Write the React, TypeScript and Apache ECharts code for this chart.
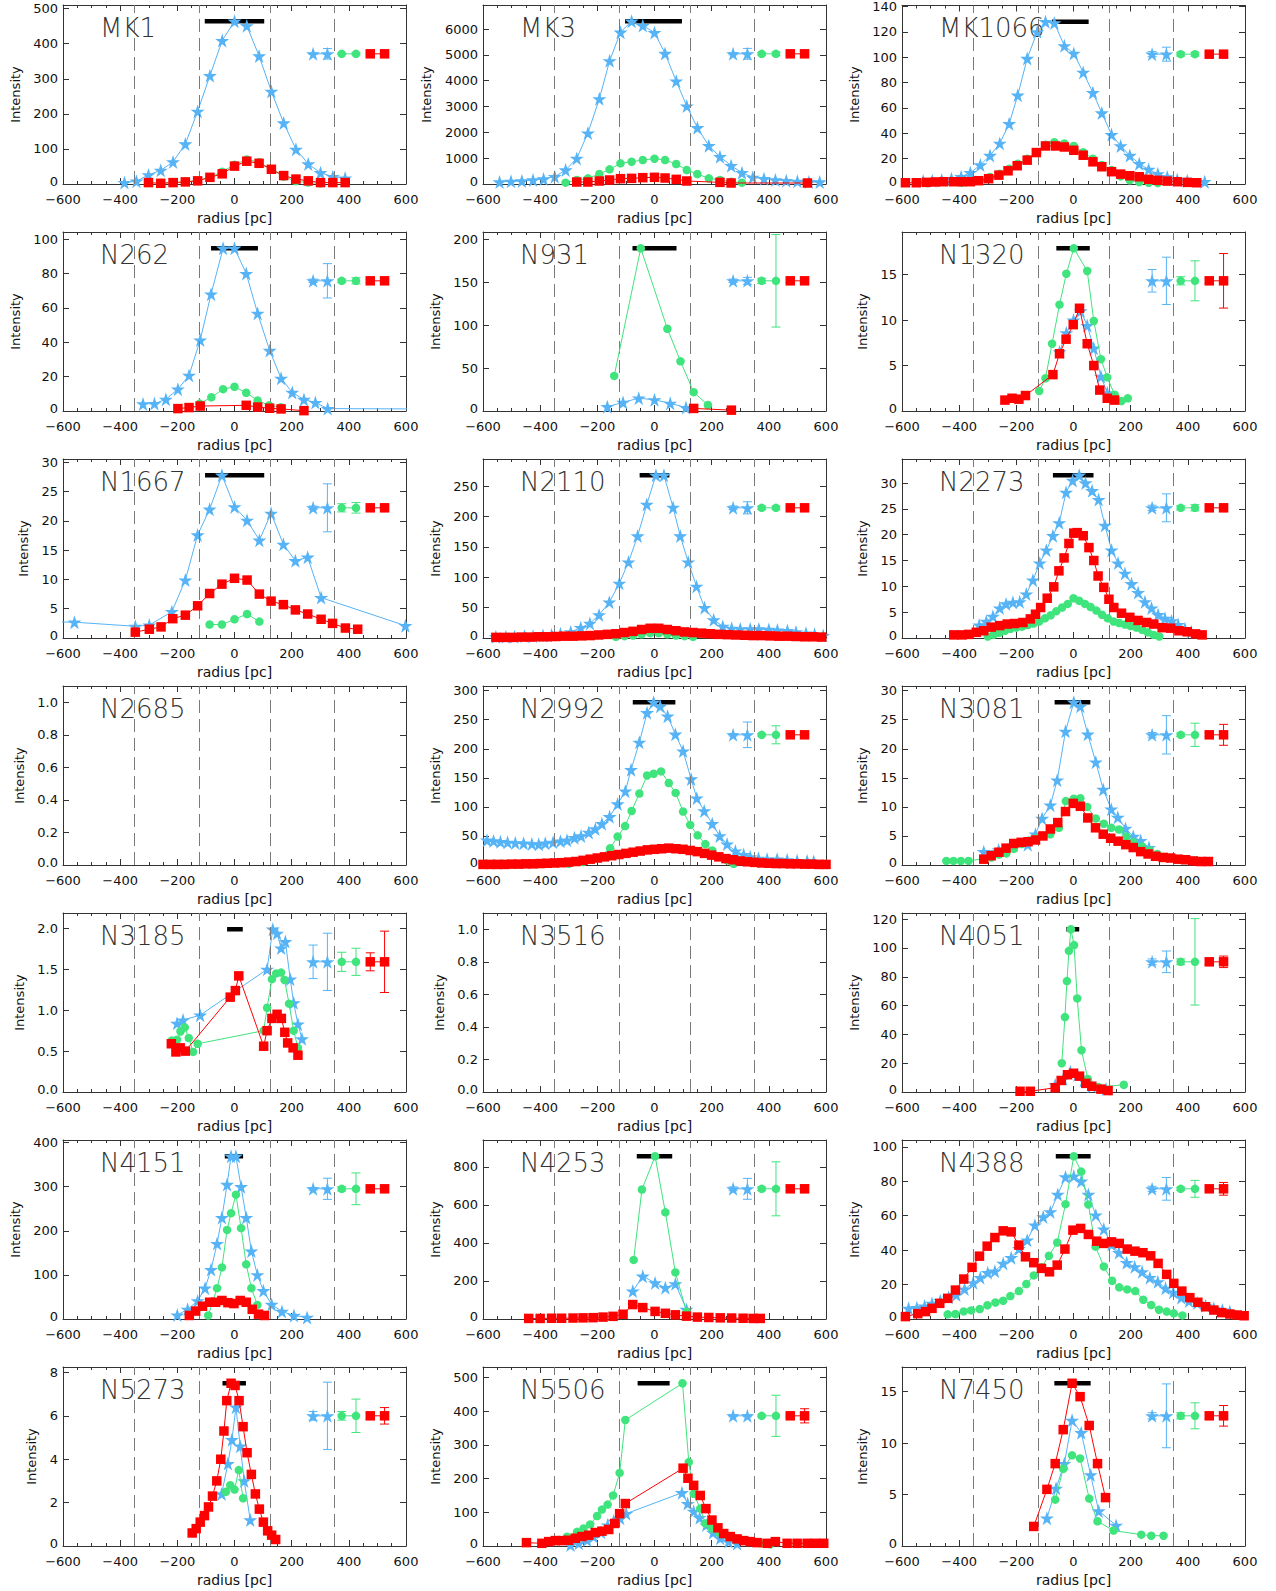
import React, { useEffect, useRef } from "react";
import * as echarts from "echarts";

const BLUE = "#56b3f6";
const GREEN = "#3fe47c";
const RED = "#ff0000";
const STAR = "path://M50,2 L61.2,36.6 L97.6,36.6 L68.2,58 L79.4,92.6 L50,71.2 L20.6,92.6 L31.8,58 L2.4,36.6 L38.8,36.6 Z";

// ---------------- data ----------------
const panelNames = ["MK1", "MK3", "MK1066", "N262", "N931", "N1320", "N1667", "N2110", "N2273", "N2685", "N2992", "N3081", "N3185", "N3516", "N4051", "N4151", "N4253", "N4388", "N5273", "N5506", "N7450"];
const yTickSteps = [100, 1000, 20, 20, 50, 5, 5, 50, 5, 0.2, 50, 5, 0.5, 0.2, 20, 100, 200, 20, 2, 100, 5];
const yDecimals = [0, 0, 0, 0, 0, 0, 0, 0, 0, 1, 0, 0, 1, 1, 0, 0, 0, 0, 0, 0, 0];
const dashX = [-350, -125, 125, 350];
const legendX = [275, 325, 375, 425, 475, 525];

const mk1StarX = [-385, -343, -301, -258, -215, -172, -129, -86, -43, 0, 43, 86, 129, 172, 215, 258, 301, 344, 387];
const mk1StarY = [4, 8, 26, 39, 63, 114, 207, 309, 409, 464, 451, 365, 264, 174, 99, 57, 32, 21, 17];
const mk1GreenX = [-258, -215, -172, -129, -86, -43, 0, 43, 86, 129, 172, 215, 258, 301];
const mk1GreenY = [3, 4, 6, 10, 19, 35, 55, 70, 62, 42, 21, 8, 4, 2];
const mk1RedX = [-301, -258, -215, -172, -129, -86, -43, 0, 43, 86, 129, 172, 215, 258, 301, 344, 387];
const mk1RedY = [4, 2, 4, 6, 9, 19, 29, 51, 65, 59, 42, 24, 14, 9, 4, 4, 4];
const mk1Bar = [-104, 104];
const mk1Err = [2, 15, 2, 3, 3, 4];

const mk3StarX = [-542, -502, -464, -425, -388, -349, -311, -272, -233, -193, -157, -119, -80, -41, 0, 37, 76, 113, 150, 190, 229, 268, 306, 344, 383, 423, 461, 500, 540, 578];
const mk3StarY = [77, 103, 116, 155, 193, 284, 541, 992, 1972, 3299, 4768, 5876, 6300, 6134, 5863, 5052, 3982, 3015, 2178, 1482, 1057, 709, 438, 258, 206, 155, 129, 103, 77, 77];
const mk3GreenX = [-311, -272, -233, -193, -157, -119, -80, -41, 0, 37, 76, 113, 150, 190, 229, 268, 306];
const mk3GreenY = [52, 155, 219, 387, 567, 799, 863, 928, 979, 928, 773, 541, 387, 219, 155, 90, 52];
const mk3RedX = [-272, -233, -193, -157, -119, -80, -41, 0, 37, 76, 113, 229, 268, 535];
const mk3RedY = [77, 77, 116, 155, 206, 219, 245, 258, 232, 180, 116, 64, 39, 39];
const mk3Bar = [-103, 96];
const mk3Err = [40, 210, 50, 70, 40, 60];

const mk1066StarX = [-526, -494, -461, -427, -393, -361, -326, -292, -258, -225, -195, -162, -127, -98, -67, -32, 1, 34, 68, 99, 133, 165, 197, 230, 263, 295, 328, 363, 398, 459];
const mk1066StarY = [2.3, 2.6, 3.1, 4.2, 5.7, 8.9, 15, 22.5, 32, 47.5, 70, 99, 120, 128, 127, 109, 103, 88, 72, 56, 39, 30, 22.5, 16, 11.5, 8, 5.5, 3.5, 2.6, 1.8];
const mk1066GreenX = [-392, -361, -326, -292, -258, -225, -195, -162, -127, -98, -67, -32, 1, 34, 68, 99, 133, 165, 197, 230, 263, 295];
const mk1066GreenY = [1, 2, 3, 5.5, 8, 12, 16, 20, 25, 31, 33, 32, 30, 25, 20, 15, 11, 6, 3, 1.5, 1, 0.8];
const mk1066RedX = [-588, -550, -515, -483, -454, -419, -390, -361, -332, -297, -261, -229, -197, -162, -130, -98, -63, -32, 1, 34, 68, 99, 133, 165, 197, 230, 263, 295, 328, 363, 398, 431];
const mk1066RedY = [1, 1, 1.3, 1.6, 1.8, 1.8, 1.8, 1.8, 2.6, 4.2, 7, 10.4, 14.4, 18.8, 24.8, 30, 30, 29.2, 26.6, 22.7, 17.5, 13.6, 9.7, 7.8, 6.5, 5.7, 3.7, 2.9, 2.3, 1.8, 1.3, 1];
const mk1066Bar = [-75, 53];
const mk1066Err = [2, 5.5, 1.5, 1.5, 1.5, 1.5];

const n262StarX = [-320, -280, -240, -198, -159, -120, -82, -40, 0, 41, 81, 123, 163, 202, 243, 283, 326, 900];
const n262StarY = [4.1, 4.3, 6.8, 12.7, 20.7, 41.3, 68, 94.7, 94.7, 80, 56.8, 35.2, 19, 10.8, 6.7, 4.9, 1.4, 1.0];
const n262GreenX = [-122, -81, -40, 0, 41, 81, 121, 163];
const n262GreenY = [4.3, 8, 12.7, 14.1, 10.6, 6.1, 3.3, 2.2];
const n262RedX = [-198, -159, -120, 41, 81, 123, 163, 243];
const n262RedY = [1.4, 2, 2.9, 3.3, 2.3, 1.6, 1.2, 0.2];
const n262Bar = [-82, 82];
const n262Err = [1, 10, 1, 1.8, 1, 1];

const n931StarX = [-165, -110, -55, 0, 55, 110];
const n931StarY = [5, 10, 15, 13, 9, 4];
const n931GreenX = [-141, -48, 45, 91, 137, 187];
const n931GreenY = [41, 190, 96, 58, 22, 7];
const n931RedX = [137, 269];
const n931RedY = [3, 1];
const n931Bar = [-77, 77];
const n931Err = [2, 4, 3, 54, 2, 2];

const n1320StarX = [-49, -25, 0, 25, 48, 71, 96, 118];
const n1320StarY = [6.5, 8.6, 10, 11, 9.4, 6.9, 3.8, 2];
const n1320GreenX = [-120, -98, -75, -49, -25, 1, 48, 71, 96, 118, 144, 168, 190];
const n1320GreenY = [2.2, 3.6, 7.4, 11.7, 15.1, 17.9, 15.4, 9.9, 5.7, 3.7, 1.8, 1.1, 1.4];
const n1320RedX = [-240, -215, -191, -168, -72, -49, -26, -1, 21, 48, 71, 92, 118, 144];
const n1320RedY = [1.2, 1.4, 1.3, 1.7, 4.0, 6.3, 7.9, 9.5, 11.3, 7.4, 5.0, 2.3, 1.4, 1.2];
const n1320Bar = [-60, 57];
const n1320Err = [1.24, 2.6, 0.45, 2.2, 0.3, 3.0];

const n1667StarX = [-700, -560, -347, -298, -219, -172, -129, -87, -44, 0, 44, 87, 128, 171, 213, 256, 303, 598];
const n1667StarY = [2.8, 2.7, 2.0, 2.2, 4.5, 9.9, 17.6, 22, 27.8, 22.4, 20.1, 16.7, 21.3, 16, 13.2, 13.8, 6.9, 2.1];
const n1667GreenX = [-87, -44, 0, 44, 87];
const n1667GreenY = [2.3, 2.3, 3.2, 4.1, 2.8];
const n1667RedX = [-347, -298, -257, -216, -172, -129, -87, -44, 0, 44, 87, 128, 171, 213, 256, 303, 343, 388, 431];
const n1667RedY = [1, 1.5, 1.9, 3.3, 3.9, 5.5, 7.6, 9.2, 10.2, 9.9, 7.5, 6.3, 5.7, 4.8, 4.1, 3.2, 2.5, 1.7, 1.5];
const n1667Bar = [-103, 104];
const n1667Err = [0.3, 4.1, 0.7, 0.9, 0.3, 0.5];

const n2110StarX = [-555, -520, -490, -455, -425, -390, -360, -329, -293, -258, -226, -194, -158, -123, -91, -59, -27, 5, 33, 65, 90, 118, 147, 175, 207, 239, 270, 300, 335, 365, 400, 430, 465, 495, 530, 560, 590];
const n2110StarY = [2, 2, 2, 3, 3, 4, 5, 7, 10, 17, 24, 38, 59, 90, 125, 168, 220, 268, 268, 215, 168, 125, 85, 50, 30, 19, 16, 15, 15, 15, 14, 13, 12, 10, 8, 6, 4];
const n2110GreenX = [-135, -105, -75, -45, -15, 15, 45, 75, 105, 135];
const n2110GreenY = [2, 3, 4, 6, 8, 8, 6, 4, 3, 2];
const n2110RedX = [-555, -525, -495, -465, -435, -405, -375, -345, -315, -285, -255, -225, -195, -165, -135, -105, -75, -45, -15, 15, 45, 75, 105, 135, 165, 195, 225, 255, 285, 315, 345, 375, 405, 435, 465, 495, 525, 555, 585];
const n2110RedY = [1, 1, 1, 1.5, 1.5, 2, 2, 2.5, 3, 3, 3.5, 4, 5, 6, 7, 9, 11, 14, 16, 16, 14, 12, 10, 9, 8, 7, 6, 5.5, 5, 4.5, 4, 4, 3.5, 3, 3, 2.5, 2, 2, 1.5];
const n2110Bar = [-52, 52];
const n2110Err = [3, 10, 3, 3, 2, 2];

const n2273StarX = [-330, -305, -282, -258, -236, -212, -188, -165, -142, -118, -95, -72, -50, -26, -3, 20, 42, 65, 88, 110, 133, 156, 180, 203, 226, 250, 273, 296, 320, 343, 366, 390, 412];
const n2273StarY = [2.5, 3.2, 4.2, 5.8, 6.6, 6.9, 7.0, 8.5, 11.2, 14.5, 17, 19.8, 22.3, 28.2, 30.5, 31.5, 30, 28.5, 26.8, 21.8, 17, 14.5, 12.5, 10.5, 8.8, 7, 5.8, 4.5, 3.8, 3.3, 2.6, 1.8, 1.2];
const n2273GreenX = [-300, -280, -260, -240, -220, -200, -180, -160, -140, -120, -100, -80, -60, -40, -20, 0, 20, 40, 60, 80, 100, 120, 140, 160, 180, 200, 220, 240, 260, 280, 300];
const n2273GreenY = [0.3, 0.6, 1.0, 1.4, 1.8, 2.0, 2.2, 2.5, 2.8, 3.2, 3.8, 4.4, 5.2, 5.9, 6.6, 7.7, 7.2, 6.6, 6.0, 5.3, 4.5, 3.8, 3.2, 2.9, 2.6, 2.3, 2.0, 1.6, 1.1, 0.6, 0.3];
const n2273RedX = [-419, -390, -367, -340, -314, -288, -258, -232, -207, -177, -151, -133, -115, -92, -69, -51, -33, -16, 1, 13, 34, 54, 71, 86, 106, 124, 141, 168, 197, 226, 256, 281, 310, 340, 369, 398, 427, 450];
const n2273RedY = [0.6, 0.6, 0.7, 1.1, 1.4, 2.1, 2.4, 2.7, 2.8, 3.0, 3.7, 4.6, 5.9, 7.7, 9.9, 13, 15.5, 18.3, 20.3, 20.4, 19.8, 17.5, 15, 12, 9.8, 7.5, 5.9, 4.8, 4, 3.4, 3, 2.7, 2, 1.9, 1.4, 1.2, 0.8, 0.6];
const n2273Bar = [-72, 70];
const n2273Err = [0.5, 2.7, 0.4, 0.6, 0.4, 0.6];

const n2992StarX = [-586, -563, -539, -514, -487, -458, -429, -405, -382, -355, -329, -306, -280, -257, -230, -207, -184, -157, -129, -102, -82, -53, -26, -3, 20, 46, 73, 100, 128, 148, 174, 202, 228, 254, 283, 312, 335, 364, 394, 429, 464, 499, 534, 557];
const n2992StarY = [42.6, 41.5, 40, 39, 38, 37.4, 36.3, 35.7, 37.4, 39, 41, 42.6, 47, 50, 56, 62, 71, 83, 105, 127, 164, 211, 262, 280, 273, 256, 225, 196, 148, 115, 93, 71, 50, 36, 24, 18, 14, 11.5, 10, 10, 8.6, 7.5, 7, 6];
const n2992GreenX = [-590, -560, -530, -300, -250, -200, -155, -129, -103, -80, -53, -26, -3, 23, 50, 74, 100, 125, 151, 178, 202, 228, 254, 277];
const n2992GreenY = [2, 2, 2, 2, 5, 12, 28.8, 49, 67, 93, 123, 154, 157, 161, 141, 124, 92, 69, 51, 36, 25, 15.6, 8, 2];
const n2992RedX = [-600, -575, -550, -525, -500, -475, -450, -425, -400, -375, -350, -325, -300, -275, -250, -225, -200, -175, -150, -125, -100, -75, -50, -25, 0, 25, 50, 75, 100, 125, 150, 175, 200, 225, 250, 275, 300, 325, 350, 375, 400, 425, 450, 475, 500, 525, 550, 575, 600];
const n2992RedY = [1, 1, 1, 1, 1.5, 1.5, 2, 2, 2.5, 3, 3.5, 4, 5, 6, 8, 10, 12, 14, 16, 18, 20, 22, 24, 26, 27, 28, 29, 28, 27, 25, 23, 20, 17, 14, 11, 9, 7, 5.5, 4.5, 3.5, 3, 2.5, 2.5, 2, 2, 1.5, 1.5, 1, 1];
const n2992Bar = [-76, 73];
const n2992Err = [2, 22, 2, 15.5, 2, 2];

const n3081StarX = [-314, -262, -209, -160, -133, -110, -81, -57, -28, 1, 24, 50, 78, 104, 132, 155, 182, 209, 235, 264];
const n3081StarY = [2.3, 2.6, 3.4, 3.5, 5.3, 8, 10.3, 14.6, 23, 28, 27.3, 22.5, 17.7, 13, 9.6, 8.2, 6.3, 4.9, 4.2, 3];
const n3081GreenX = [-445, -420, -394, -367, -288, -261, -235, -209, -182, -156, -130, -105, -81, -51, -27, 1, 24, 48, 78, 106, 132, 159, 185, 211, 240, 267, 293];
const n3081GreenY = [0.7, 0.7, 0.7, 0.7, 1.3, 1.8, 2.0, 2.8, 3.6, 4.2, 4.6, 5.0, 5.3, 6.4, 11, 11.4, 11.5, 10, 8, 7.1, 6.4, 6.1, 4.9, 3.9, 3.2, 2.5, 1.9];
const n3081RedX = [-314, -288, -261, -236, -209, -183, -159, -133, -107, -81, -55, -28, -1, 24, 50, 77, 104, 130, 156, 183, 209, 235, 261, 287, 314, 340, 366, 392, 419, 445, 472];
const n3081RedY = [1, 1.6, 2.2, 2.9, 3.7, 3.9, 4, 4.3, 5, 6.2, 7.3, 9.2, 10.6, 10.1, 8.1, 6.4, 5.3, 4.6, 4.1, 3.5, 3, 2.3, 1.9, 1.5, 1.3, 1.2, 1, 0.9, 0.7, 0.6, 0.6];
const n3081Bar = [-66, 59];
const n3081Err = [0.4, 3.3, 0.3, 2.0, 0.3, 1.8];

const n3185StarX = [-201, -180, -120, 114, 134, 149, 163, 178, 195, 207, 222, 236];
const n3185StarY = [0.84, 0.88, 0.94, 1.5, 1.99, 1.94, 1.76, 1.84, 1.38, 1.09, 0.83, 0.65];
const n3185GreenX = [-219, -201, -189, -174, -160, -145, -129, 102, 114, 131, 146, 163, 175, 191, 207, 222];
const n3185GreenY = [0.63, 0.64, 0.74, 0.79, 0.66, 0.49, 0.59, 0.75, 1.03, 1.38, 1.45, 1.46, 1.37, 1.08, 0.75, 0.54];
const n3185RedX = [-221, -205, -190, -172, -15, 3, 15, 102, 114, 131, 149, 164, 176, 186, 205, 222];
const n3185RedY = [0.59, 0.49, 0.54, 0.5, 1.16, 1.24, 1.42, 0.56, 0.75, 0.9, 0.95, 0.9, 0.73, 0.6, 0.54, 0.45];
const n3185Bar = [-26, 29];
const n3185Err = [0.205, 0.35, 0.117, 0.166, 0.11, 0.375];

const n4051StarX = [-64, -36, -11, 14, 36, 64, 114];
const n4051StarY = [5, 9, 14, 12, 8, 4, 2];
const n4051GreenX = [-41, -30, -23, -16, -9, 2, 13, 28, 50, 87, 176];
const n4051GreenY = [20, 52, 77, 98, 113, 102, 65, 29, 9, 3.5, 5];
const n4051RedX = [-187, -151, -64, -43, -21, 0, 21, 43, 64, 96, 121];
const n4051RedY = [0.5, 0.5, 3, 8, 12, 13, 11, 6, 4, 2, 1];
const n4051Bar = [-25, 20];
const n4051Err = [2, 7.5, 2, 30, 2, 4];

const n4151StarX = [-200, -164, -129, -103, -82, -61, -44, -26, -12, 5, 23, 41, 59, 80, 101, 130, 166, 208, 254];
const n4151StarY = [9, 22, 41, 70, 112, 171, 230, 305, 369, 369, 300, 230, 154, 100, 64, 33, 17, 8, 3.5];
const n4151GreenX = [-92, -61, -44, -26, -12, 5, 23, 41, 59, 80];
const n4151GreenY = [8, 70, 117, 202, 240, 282, 206, 124, 70, 32];
const n4151RedX = [-158, -136, -112, -87, -66, -44, -23, -2, 20, 41, 62, 84, 105];
const n4151RedY = [8, 18, 29, 38, 38, 42, 37, 35, 42, 38, 22, 11, 8];
const n4151Bar = [-34, 30];
const n4151Err = [3, 24, 5, 36, 4, 6];

const n4253StarX = [-76, -41, 2, 38, 73, 112];
const n4253StarY = [147, 225, 190, 165, 185, 50];
const n4253GreenX = [-73, -44, 2, 38, 73, 112];
const n4253GreenY = [311, 681, 856, 561, 245, 38];
const n4253RedX = [-440, -400, -360, -325, -285, -250, -215, -180, -145, -110, -76, -41, 2, 38, 73, 112, 150, 190, 230, 270, 310, 345, 370];
const n4253RedY = [3, 3, 4, 4, 5, 6, 7, 10, 14, 25, 76, 60, 40, 30, 22, 15, 10, 8, 6, 5, 4, 3, 3];
const n4253Bar = [-62, 62];
const n4253Err = [10, 55, 10, 142, 10, 20];

const n4388StarX = [-577, -548, -521, -495, -466, -437, -410, -381, -351, -326, -300, -275, -246, -218, -191, -162, -135, -106, -81, -55, -28, 1, 27, 52, 78, 106, 133, 159, 186, 214, 240, 267, 295, 322, 349, 377, 404, 433, 462, 491, 521, 547];
const n4388StarY = [6.2, 6.6, 7.5, 9, 10.6, 12.6, 14, 17.4, 21, 24, 26.9, 27.8, 32.3, 35.6, 40.8, 45.8, 54.5, 59.3, 62.2, 72.3, 82.5, 83, 80, 72.3, 60.3, 52.2, 43.3, 38.6, 32.7, 30.3, 27.4, 24, 21.6, 17.8, 15.5, 12.4, 10.4, 9.3, 7.7, 6.2, 5.2, 4.3];
const n4388GreenX = [-440, -413, -384, -358, -328, -301, -273, -246, -221, -191, -165, -139, -112, -86, -57, -28, 1, 27, 52, 77, 106, 135, 160, 188, 216, 244, 272, 299, 326, 351, 381];
const n4388GreenY = [2.7, 2.9, 4.4, 5.0, 5.8, 8.0, 9.6, 10.6, 13.3, 16.2, 20.3, 25.3, 30, 36.7, 44.4, 66.7, 94.5, 85.6, 66.5, 42, 30.5, 22.2, 18.4, 17.2, 16.2, 11.2, 8.1, 5.4, 4.3, 3.3, 2.1];
const n4388RedX = [-588, -545, -518, -495, -468, -440, -413, -384, -355, -329, -302, -275, -246, -218, -191, -168, -139, -112, -84, -57, -30, -2, 25, 52, 81, 106, 133, 160, 188, 215, 243, 270, 296, 326, 351, 379, 407, 435, 462, 491, 518, 547, 573, 597];
const n4388RedY = [1.4, 3.1, 4.3, 6.2, 9.1, 12, 16.8, 23.2, 30, 36.5, 42.3, 47.3, 51.2, 50.6, 42.9, 36.1, 32.7, 29.4, 27.4, 31.3, 40.6, 51.6, 52.6, 49.1, 45.2, 43.9, 44.8, 43.9, 40.6, 39.4, 38.5, 36.7, 32.3, 25.9, 20.7, 16.2, 12.4, 9.7, 7.1, 5.2, 3.7, 2.9, 2.3, 1.9];
const n4388Bar = [-62, 60];
const n4388Err = [1.5, 6.6, 1, 4.9, 1, 3.7];

const n5273StarX = [-45, -23, -9, 5, 20, 34, 55];
const n5273StarY = [2.4, 3.8, 4.9, 6.4, 4.6, 3.0, 1.2];
const n5273GreenX = [-30, -15, 0, 15, 30];
const n5273GreenY = [2.5, 2.8, 2.6, 3.5, 2.2];
const n5273RedX = [-148, -134, -120, -105, -91, -77, -62, -48, -37, -27, -12, 2, 16, 30, 44, 59, 73, 87, 101, 116, 130, 144];
const n5273RedY = [0.6, 0.8, 1.1, 1.4, 1.8, 2.3, 3, 4, 5.3, 6.7, 7.5, 7.4, 6.7, 5.5, 4.3, 3.3, 2.4, 1.7, 1.1, 0.7, 0.5, 0.3];
const n5273Bar = [-42, 40];
const n5273Err = [0.2, 1.55, 0.2, 0.77, 0.15, 0.38];

const n5506StarX = [-294, -265, -236, -213, -187, -164, -143, -120, -99, 96, 116, 137, 158, 181, 205, 230, 259, 289];
const n5506StarY = [3, 8, 18, 28, 41, 62, 74, 82, 96, 158, 126, 103, 84, 62, 40, 23, 13, 7];
const n5506GreenX = [-347, -306, -271, -248, -225, -201, -184, -164, -145, -122, -102, 98, 120, 137, 160, 178, 201, 225, 251, 277, 306, 335, 370, 405];
const n5506GreenY = [18, 27.5, 42, 52, 64, 89, 108, 123, 150, 217, 374, 483, 249, 155, 111, 67, 52, 40, 32, 25, 18, 13, 8, 5];
const n5506RedX = [-448, -394, -370, -347, -324, -300, -277, -254, -230, -207, -184, -160, -139, -122, -102, 100, 117, 137, 160, 180, 201, 222, 242, 265, 289, 312, 335, 359, 394, 423, 464, 499, 534, 563, 592];
const n5506RedY = [10, 8, 13, 16, 16, 17, 23, 28, 32, 40, 44, 49, 67, 96, 126, 231, 201, 180, 150, 111, 77, 54, 37, 28, 21, 16, 13, 10, 8, 13, 8, 8, 8, 8, 8];
const n5506Bar = [-59, 53];
const n5506Err = [3, 3, 3, 61, 3, 21];

const n7450StarX = [-93, -61, -32, -5, 27, 60, 88, 149];
const n7450StarY = [2.7, 5.6, 8, 12.2, 11, 6.9, 3.4, 2];
const n7450GreenX = [-64, -36, -5, 23, 55, 84, 140, 237, 272, 315];
const n7450GreenY = [4.5, 7.5, 8.8, 8.5, 4.6, 2.4, 1.5, 1.1, 1.0, 1.0];
const n7450RedX = [-139, -93, -64, -36, -5, 23, 55, 84, 112];
const n7450RedY = [1.9, 5.5, 8, 11.3, 15.8, 14.5, 11.7, 8, 4.7];
const n7450Bar = [-67, 60];
const n7450Err = [0.3, 3.1, 0.3, 1.26, 0.3, 1.0];

const E: number[] = [];
const panelData: any[] = [
  [mk1StarX, mk1StarY, mk1GreenX, mk1GreenY, mk1RedX, mk1RedY, mk1Bar, mk1Err],
  [mk3StarX, mk3StarY, mk3GreenX, mk3GreenY, mk3RedX, mk3RedY, mk3Bar, mk3Err],
  [mk1066StarX, mk1066StarY, mk1066GreenX, mk1066GreenY, mk1066RedX, mk1066RedY, mk1066Bar, mk1066Err],
  [n262StarX, n262StarY, n262GreenX, n262GreenY, n262RedX, n262RedY, n262Bar, n262Err],
  [n931StarX, n931StarY, n931GreenX, n931GreenY, n931RedX, n931RedY, n931Bar, n931Err],
  [n1320StarX, n1320StarY, n1320GreenX, n1320GreenY, n1320RedX, n1320RedY, n1320Bar, n1320Err],
  [n1667StarX, n1667StarY, n1667GreenX, n1667GreenY, n1667RedX, n1667RedY, n1667Bar, n1667Err],
  [n2110StarX, n2110StarY, n2110GreenX, n2110GreenY, n2110RedX, n2110RedY, n2110Bar, n2110Err],
  [n2273StarX, n2273StarY, n2273GreenX, n2273GreenY, n2273RedX, n2273RedY, n2273Bar, n2273Err],
  [E, E, E, E, E, E, null, null],
  [n2992StarX, n2992StarY, n2992GreenX, n2992GreenY, n2992RedX, n2992RedY, n2992Bar, n2992Err],
  [n3081StarX, n3081StarY, n3081GreenX, n3081GreenY, n3081RedX, n3081RedY, n3081Bar, n3081Err],
  [n3185StarX, n3185StarY, n3185GreenX, n3185GreenY, n3185RedX, n3185RedY, n3185Bar, n3185Err],
  [E, E, E, E, E, E, null, null],
  [n4051StarX, n4051StarY, n4051GreenX, n4051GreenY, n4051RedX, n4051RedY, n4051Bar, n4051Err],
  [n4151StarX, n4151StarY, n4151GreenX, n4151GreenY, n4151RedX, n4151RedY, n4151Bar, n4151Err],
  [n4253StarX, n4253StarY, n4253GreenX, n4253GreenY, n4253RedX, n4253RedY, n4253Bar, n4253Err],
  [n4388StarX, n4388StarY, n4388GreenX, n4388GreenY, n4388RedX, n4388RedY, n4388Bar, n4388Err],
  [n5273StarX, n5273StarY, n5273GreenX, n5273GreenY, n5273RedX, n5273RedY, n5273Bar, n5273Err],
  [n5506StarX, n5506StarY, n5506GreenX, n5506GreenY, n5506RedX, n5506RedY, n5506Bar, n5506Err],
  [n7450StarX, n7450StarY, n7450GreenX, n7450GreenY, n7450RedX, n7450RedY, n7450Bar, n7450Err],
];

// ---------------- layout ----------------
const COLS = [63, 483, 902];
const ROWS = [5, 232, 459, 686, 913, 1140, 1367];
const PW = 343;
const PH = 179;
const FONT = "DejaVu Sans";
const FRAME = "#333";
const LABEL = "#111";

const zip = (xs: number[], ys: number[]) => xs.map((x, k) => [x, ys[k]]);
const fmtX = (v: number) => String(v).replace("-", "\u2212");
const charW = (s: string) => s.split("").reduce((a, c) => a + (c === "." ? 4.1 : 8.3), 0);

function buildOption() {
  const grid: any[] = [];
  const xAxis: any[] = [];
  const yAxis: any[] = [];
  const series: any[] = [];
  const graphic: any[] = [];

  panelData.forEach((pd, i) => {
    const [sx, sy, gx, gy, rx, ry, bar, err] = pd;
    const col = i % 3;
    const row = Math.floor(i / 3);
    const left = COLS[col];
    const top = ROWS[row];
    const step = yTickSteps[i];
    const dec = yDecimals[i];
    const inRange = (xs: number[], ys: number[]) => ys.filter((_, k) => xs[k] >= -600 && xs[k] <= 600);
    const all = [...inRange(sx, sy), ...inRange(gx, gy), ...inRange(rx, ry)];
    const maxV = all.length ? Math.max(...all) : 1;
    const topV = maxV * 1.1;
    const fmtY = (v: number) => (dec ? v.toFixed(dec) : String(Math.round(v)));

    grid.push({ left, top, width: PW, height: PH, containLabel: false });

    const baseX = {
      type: "value", gridIndex: i, min: -600, max: 600, interval: 200,
      splitLine: { show: false },
      axisLine: { show: true, onZero: false, lineStyle: { color: FRAME, width: 1 } },
      axisTick: { show: true, inside: true, length: 6, lineStyle: { color: FRAME } },
      minorTick: { show: true, splitNumber: 4, length: 3, lineStyle: { color: FRAME } },
    };
    xAxis.push({
      ...baseX, position: "bottom",
      axisLabel: { show: true, margin: 9, fontSize: 13, fontFamily: FONT, color: LABEL, formatter: (v: number) => fmtX(v) },
    });
    xAxis.push({ ...baseX, position: "top", axisLabel: { show: false } });

    const baseY = {
      type: "value", gridIndex: i, min: 0, max: topV, interval: step,
      splitLine: { show: false },
      axisLine: { show: true, onZero: false, lineStyle: { color: FRAME, width: 1 } },
      axisTick: { show: true, inside: true, length: 6, lineStyle: { color: FRAME } },
    };
    yAxis.push({
      ...baseY, position: "left",
      axisLabel: {
        show: true, margin: 5, fontSize: 13, fontFamily: FONT, color: LABEL, showMaxLabel: false,
        formatter: (v: number) => (Math.abs(v) < 1e-9 ? `{z|${fmtY(0)}}` : fmtY(v)),
        rich: { z: { fontSize: 13, fontFamily: FONT, color: LABEL, padding: [0, 0, 6, 0] } },
      },
    });
    yAxis.push({ ...baseY, position: "right", axisLabel: { show: false } });

    const xi = i * 2;
    const yi = i * 2;

    // dashed reference lines
    series.push({
      type: "line", xAxisIndex: xi, yAxisIndex: yi, data: [[0, 0]], symbol: "none",
      lineStyle: { width: 0, opacity: 0 }, silent: true, z: 1,
      markLine: {
        silent: true, symbol: ["none", "none"], label: { show: false },
        lineStyle: { color: "#7a7a7a", type: [13, 6], width: 1 },
        data: dashX.map((v) => ({ xAxis: v })),
      },
    });

    if (bar) {
      series.push({
        type: "line", xAxisIndex: xi, yAxisIndex: yi, symbol: "none", silent: true, z: 2,
        data: [[bar[0], maxV], [bar[1], maxV]],
        lineStyle: { color: "#000", width: 4.5, cap: "butt" },
      });
    }

    const lineSeries = (xs: number[], ys: number[], color: string, symbol: string, size: number, z: number) => ({
      type: "line", xAxisIndex: xi, yAxisIndex: yi, data: zip(xs, ys), symbol, symbolSize: size,
      showSymbol: true, silent: true, z, clip: true,
      itemStyle: { color, borderWidth: 0 }, lineStyle: { color, width: 1 },
    });

    if (sx.length) series.push(lineSeries(sx, sy, BLUE, STAR, 14, 4));
    if (gx.length) series.push(lineSeries(gx, gy, GREEN, "circle", 8.5, 5));
    if (rx.length) series.push(lineSeries(rx, ry, RED, "rect", 9.5, 6));

    if (err) {
      const ly = maxV * 0.8;
      series.push(lineSeries([legendX[0], legendX[1]], [ly, ly], BLUE, STAR, 14, 4));
      series.push(lineSeries([legendX[2], legendX[3]], [ly, ly], GREEN, "circle", 8.5, 5));
      series.push(lineSeries([legendX[4], legendX[5]], [ly, ly], RED, "rect", 9.5, 6));
      series.push({
        type: "custom", xAxisIndex: xi, yAxisIndex: yi, silent: true, z: 3,
        data: legendX.map((x, k) => [x, ly, err[k], Math.floor(k / 2)]),
        renderItem: (params: any, api: any) => {
          const x = api.value(0), y = api.value(1), e = api.value(2), c = api.value(3);
          const color = [BLUE, GREEN, RED][c];
          const p1 = api.coord([x, y + e]);
          const p2 = api.coord([x, y - e]);
          const hw = 4.5;
          const st = { stroke: color, lineWidth: 1 };
          return {
            type: "group",
            children: [
              { type: "line", shape: { x1: p1[0], y1: p1[1], x2: p2[0], y2: p2[1] }, style: st },
              { type: "line", shape: { x1: p1[0] - hw, y1: p1[1], x2: p1[0] + hw, y2: p1[1] }, style: st },
              { type: "line", shape: { x1: p2[0] - hw, y1: p2[1], x2: p2[0] + hw, y2: p2[1] }, style: st },
            ],
          };
        },
      });
    }

    // texts
    graphic.push({
      type: "text", x: left + 37, y: top + 23, z: 0, silent: true,
      style: { text: panelNames[i], fontSize: 26, fontFamily: FONT, fontWeight: 200, fill: "#333", verticalAlign: "middle", align: "left" },
    });
    graphic.push({
      type: "text", x: left + PW / 2, y: top + PH + 34, silent: true,
      style: { text: "radius [pc]", fontSize: 14, fontFamily: FONT, fill: LABEL, verticalAlign: "middle", align: "center" },
    });
    let lw = 0;
    for (let k = 0; k * step <= topV + 1e-9; k++) lw = Math.max(lw, charW(fmtY(k * step)));
    graphic.push({
      type: "text", x: left - (6 + lw + 17), y: top + PH / 2, rotation: Math.PI / 2, silent: true,
      style: { text: "Intensity", fontSize: 13, fontFamily: FONT, fill: LABEL, verticalAlign: "middle", align: "center" },
    });
  });

  return { animation: false, backgroundColor: "#fff", grid, xAxis, yAxis, series, graphic };
}

export default function App() {
  const ref = useRef<HTMLDivElement>(null);
  useEffect(() => {
    if (!ref.current) return;
    const chart = echarts.init(ref.current, null as any, { renderer: "svg" });
    chart.setOption(buildOption() as any);
    return () => chart.dispose();
  }, []);
  return (
    <div
      ref={ref}
      style={{ position: "absolute", left: 0, top: 0, width: 1276, height: 1591, background: "#fff" }}
    />
  );
}
